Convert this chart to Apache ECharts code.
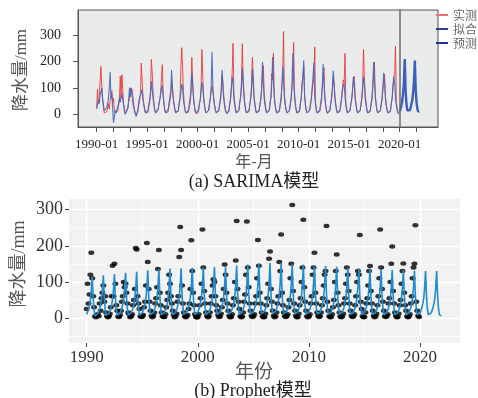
<!DOCTYPE html>
<html>
<head>
<meta charset="utf-8">
<script src="https://cdn.jsdelivr.net/npm/echarts@6/dist/echarts.min.js"></script>
<style>
  html, body { margin: 0; padding: 0; background: #fff; }
  #main { width: 478px; height: 398px; }
</style>
</head>
<body>
<div id="main"></div>
<script>
// monthly precipitation (mm), one row per year, Jan..Dec, 1990-2019
var startYear = 1990
var actual = [
  [25, 95, 40, 65, 120, 181, 110, 60, 30, 5, 2, 8],
  [10, 5, 40, 20, 55, 70, 90, 45, 60, 15, 5, 2],
  [5, 12, 30, 60, 145, 60, 150, 95, 35, 20, 4, 3],
  [8, 20, 45, 60, 100, 85, 95, 70, 40, 15, 10, 2],
  [5, 10, 35, 50, 80, 194, 190, 60, 40, 25, 5, 3],
  [4, 8, 30, 45, 90, 208, 155, 80, 45, 20, 6, 2],
  [6, 15, 40, 55, 85, 136, 188, 70, 35, 15, 5, 3],
  [3, 10, 30, 50, 70, 120, 95, 60, 40, 20, 8, 2],
  [5, 12, 45, 60, 169, 252, 188, 90, 40, 15, 5, 2],
  [4, 8, 25, 40, 80, 215, 130, 70, 35, 10, 3, 1],
  [3, 10, 35, 55, 95, 245, 140, 75, 40, 15, 5, 2],
  [5, 15, 40, 60, 90, 107, 100, 60, 35, 20, 8, 3],
  [4, 12, 30, 50, 80, 148, 120, 70, 40, 20, 6, 2],
  [3, 10, 35, 55, 100, 159, 269, 80, 45, 25, 5, 2],
  [4, 15, 45, 65, 120, 267, 140, 85, 40, 20, 6, 3],
  [5, 10, 40, 60, 110, 216, 145, 70, 40, 15, 5, 2],
  [3, 12, 35, 55, 95, 164, 184, 80, 45, 20, 6, 2],
  [4, 15, 40, 60, 155, 130, 231, 70, 35, 15, 5, 3],
  [5, 10, 30, 50, 110, 150, 313, 75, 40, 20, 6, 2],
  [3, 12, 35, 55, 100, 140, 272, 85, 45, 20, 5, 2],
  [4, 10, 40, 60, 120, 140, 181, 70, 40, 15, 6, 3],
  [5, 15, 35, 55, 90, 120, 130, 255, 45, 20, 5, 2],
  [3, 10, 30, 50, 100, 130, 176, 70, 35, 15, 4, 2],
  [4, 12, 40, 55, 95, 140, 120, 75, 40, 20, 6, 3],
  [5, 10, 35, 60, 100, 130, 120, 230, 45, 25, 5, 2],
  [3, 15, 40, 55, 90, 130, 144, 75, 40, 20, 6, 2],
  [4, 12, 35, 60, 110, 245, 140, 80, 45, 20, 5, 3],
  [5, 10, 40, 55, 100, 150, 198, 75, 40, 15, 6, 2],
  [3, 12, 35, 50, 95, 130, 151, 70, 35, 20, 5, 2],
  [4, 10, 40, 60, 110, 140, 150, 257, 45, 20, 6, 3]
]
// SARIMA fitted values, same months
var fitted = [
  [20, 35, 55, 40, 70, 85, 100, 60, 35, 15, 20, 10],
  [25, 40, 60, 100, 160, 60, 75, 20, -32, -10, 15, 5],
  [0, 10, 40, 60, 45, 70, 80, 55, 35, 10, 0, -5],
  [5, 25, 55, 100, 65, 100, 70, 40, 25, 10, 0, -8],
  [5, 20, 45, 65, 60, 80, 95, 60, 35, 15, 5, 0],
  [5, 15, 40, 55, 80, 125, 90, 60, 35, 15, 5, 2],
  [8, 20, 40, 55, 75, 95, 110, 70, 40, 15, 5, 3],
  [5, 20, 45, 65, 90, 168, 100, 60, 35, 15, 5, 2],
  [5, 15, 40, 60, 80, 115, 100, 55, 35, 15, 5, 2],
  [5, 15, 40, 60, 90, 155, 110, 60, 35, 15, 5, 2],
  [5, 18, 40, 55, 90, 120, 105, 60, 35, 15, 5, 2],
  [5, 15, 40, 60, 100, 237, 110, 60, 35, 15, 5, 2],
  [5, 15, 40, 60, 95, 168, 105, 55, 30, 12, 5, 2],
  [5, 15, 40, 60, 100, 143, 120, 60, 35, 15, 5, 2],
  [5, 15, 45, 65, 100, 175, 120, 65, 35, 15, 5, 2],
  [5, 15, 40, 60, 95, 172, 115, 60, 35, 15, 5, 2],
  [5, 15, 40, 60, 100, 198, 120, 60, 35, 15, 5, 2],
  [5, 15, 45, 65, 110, 217, 125, 65, 35, 15, 5, 2],
  [5, 15, 40, 60, 105, 181, 130, 65, 35, 15, 5, 2],
  [5, 15, 40, 60, 110, 232, 130, 65, 35, 15, 5, 2],
  [5, 15, 40, 60, 105, 145, 204, 70, 35, 15, 5, 2],
  [5, 15, 40, 60, 100, 140, 195, 70, 35, 15, 5, 2],
  [5, 15, 40, 60, 100, 191, 120, 65, 35, 15, 5, 2],
  [5, 15, 40, 60, 95, 166, 120, 60, 35, 15, 5, 2],
  [5, 15, 40, 60, 90, 110, 118, 65, 35, 15, 5, 2],
  [5, 15, 40, 60, 95, 142, 115, 60, 35, 15, 5, 2],
  [5, 15, 40, 60, 100, 143, 115, 60, 35, 15, 5, 2],
  [5, 15, 40, 60, 105, 198, 125, 65, 35, 15, 5, 2],
  [5, 15, 40, 60, 100, 157, 120, 60, 35, 15, 5, 2],
  [5, 15, 40, 60, 100, 143, 120, 60, 35, 15, 5, 2]
]
// SARIMA forecast 2020-01 .. 2021-12
var forecast = [10, 20, 35, 50, 80, 120, 209, 90, 40, 15, 10, 20,
  15, 25, 40, 55, 85, 125, 203, 95, 45, 20, 10, 12]
// Prophet yhat 1990-01 .. 2021-12
var prophetYhat = [
  [10, 8, 24, 35, 50, 75, 115, 55, 22, 6, 10, 5],
  [12, 9, 25, 36, 51, 77, 118, 56, 23, 7, 11, 5],
  [13, 9, 26, 37, 52, 79, 122, 58, 24, 7, 11, 6],
  [13, 10, 27, 38, 53, 81, 125, 59, 24, 8, 12, 6],
  [14, 10, 27, 39, 54, 82, 128, 60, 25, 8, 12, 6],
  [14, 11, 28, 40, 55, 84, 132, 62, 26, 9, 12, 7],
  [15, 11, 29, 41, 56, 86, 135, 63, 26, 9, 13, 7],
  [15, 11, 29, 41, 57, 87, 137, 64, 27, 9, 13, 7],
  [15, 12, 30, 42, 57, 88, 138, 64, 27, 10, 13, 7],
  [16, 12, 30, 42, 58, 88, 139, 65, 27, 10, 13, 8],
  [16, 12, 30, 43, 58, 89, 140, 65, 28, 10, 14, 8],
  [16, 12, 31, 43, 59, 90, 141, 66, 28, 10, 14, 8],
  [16, 13, 31, 43, 59, 90, 142, 66, 28, 11, 14, 8],
  [17, 13, 32, 44, 60, 92, 145, 67, 29, 11, 14, 8],
  [17, 13, 32, 45, 61, 94, 148, 69, 29, 11, 15, 9],
  [17, 14, 33, 45, 62, 95, 150, 70, 30, 12, 15, 9],
  [18, 14, 33, 46, 63, 96, 152, 71, 30, 12, 15, 9],
  [18, 14, 33, 46, 63, 96, 152, 71, 30, 12, 15, 9],
  [17, 14, 33, 45, 62, 95, 150, 70, 30, 12, 15, 9],
  [17, 13, 32, 45, 61, 94, 148, 69, 29, 11, 15, 9],
  [17, 13, 32, 44, 60, 93, 146, 68, 29, 11, 14, 8],
  [16, 13, 31, 44, 60, 91, 144, 67, 28, 11, 14, 8],
  [16, 13, 31, 43, 59, 90, 142, 66, 28, 11, 14, 8],
  [16, 12, 30, 43, 58, 89, 140, 65, 28, 10, 14, 8],
  [15, 12, 30, 42, 57, 88, 138, 64, 27, 10, 13, 7],
  [15, 12, 29, 41, 57, 87, 136, 63, 27, 10, 13, 7],
  [15, 11, 29, 41, 56, 85, 134, 62, 26, 9, 13, 7],
  [14, 11, 28, 40, 55, 85, 133, 62, 26, 9, 12, 7],
  [14, 11, 28, 40, 55, 84, 132, 62, 26, 9, 12, 7],
  [14, 11, 28, 40, 55, 84, 131, 61, 26, 9, 12, 7],
  [14, 10, 28, 39, 54, 83, 130, 61, 25, 9, 12, 6],
  [14, 10, 28, 39, 54, 83, 130, 61, 25, 9, 12, 6]
]
var sarimaTicks = [0, 20, 40, 60, 80, 100, 120, 140, 160, 180, 200, 220, 240, 260, 280, 300, 320, 340, 360, 380]
var sarimaLabelPos = [0, 60, 120, 180, 240, 300, 360]
var sarimaLabels = ['1990-01', '1995-01', '2000-01', '2005-01', '2010-01', '2015-01', '2020-01']
var prophetYears = [1990, 2000, 2010, 2020]
var prophetMinorYears = [1995, 2005, 2015]
var yTicks = [0, 100, 200, 300]
var yMinor = [-50, 50, 150, 250]

var actualA = [], fittedA = [], forecastA = [], actualB = [], yhatB = []
actual.forEach(function (row, i) {
  row.forEach(function (v, m) {
    actualA.push([i * 12 + m, v])
    actualB.push([startYear + i + m / 12, v])
  })
})
fitted.forEach(function (row, i) {
  row.forEach(function (v, m) {
    fittedA.push([i * 12 + m, v])
  })
})
forecast.forEach(function (v, k) {
  forecastA.push([actual.length * 12 + k, v])
})
prophetYhat.forEach(function (row, i) {
  row.forEach(function (v, m) {
    yhatB.push([startYear + i + m / 12, v])
  })
})

var serif = "'Liberation Serif', 'Noto Sans CJK SC', serif"
var cjk = "'Noto Sans CJK SC', sans-serif"

var gridLines = []
prophetYears.forEach(function (x) { gridLines.push({ xAxis: x, lineStyle: { width: 1.3 } }) })
prophetMinorYears.forEach(function (x) { gridLines.push({ xAxis: x, lineStyle: { width: 0.6 } }) })
yTicks.forEach(function (y) { gridLines.push({ yAxis: y, lineStyle: { width: 1.3 } }) })
yMinor.forEach(function (y) { gridLines.push({ yAxis: y, lineStyle: { width: 0.6 } }) })

var myChart = echarts.init(document.getElementById('main'))
var option = {
  animation: false,
  grid: [
    {
      left: 78, top: 10, width: 360, height: 117,
      show: true, backgroundColor: '#eaebeb', borderColor: '#555', borderWidth: 1
    },
    {
      left: 69, top: 199, width: 391, height: 144,
      show: true, backgroundColor: '#f2f2f2', borderWidth: 0
    }
  ],
  legend: {
    orient: 'vertical',
    left: 436,
    top: 8,
    padding: 0,
    itemGap: 0,
    itemWidth: 12,
    itemHeight: 2,
    icon: 'rect',
    textStyle: { fontFamily: cjk, fontSize: 12, color: '#666', lineHeight: 14 },
    data: [
      { name: '实测', itemStyle: { color: '#f07070' } },
      { name: '拟合', itemStyle: { color: '#2e3f9a' } },
      { name: '预测', itemStyle: { color: '#22329a' } }
    ]
  },
  xAxis: [
    {
      type: 'value', gridIndex: 0, min: -22.2, max: 405.5,
      splitLine: { show: false },
      axisLine: { show: true, onZero: false, lineStyle: { color: '#555' } },
      axisTick: { show: true, length: 5, customValues: sarimaTicks, lineStyle: { color: '#555' } },
      axisLabel: {
        customValues: sarimaLabelPos,
        margin: 11,
        fontFamily: serif, fontSize: 13, color: '#222',
        formatter: function (v) { return sarimaLabels[sarimaLabelPos.indexOf(v)] }
      }
    },
    {
      type: 'value', gridIndex: 1, min: 1988.41, max: 2023.6,
      splitLine: { show: false },
      axisLine: { show: false, onZero: false },
      axisTick: { show: true, length: 4, customValues: prophetYears, lineStyle: { color: '#444' } },
      axisLabel: {
        customValues: prophetYears, margin: 6,
        fontFamily: serif, fontSize: 17, color: '#333',
        formatter: function (v) { return String(v) }
      }
    }
  ],
  yAxis: [
    {
      type: 'value', gridIndex: 0, min: -48, max: 394.6,
      splitLine: { show: false },
      axisLine: { show: true, onZero: false, lineStyle: { color: '#555' } },
      axisTick: { show: true, length: 5, customValues: yTicks, lineStyle: { color: '#555' } },
      axisLabel: { customValues: yTicks, margin: 17, fontFamily: serif, fontSize: 14, color: '#222' }
    },
    {
      type: 'value', gridIndex: 1, min: -69.3, max: 329.6,
      splitLine: { show: false },
      axisLine: { show: false, onZero: false },
      axisTick: { show: true, length: 4, customValues: yTicks, lineStyle: { color: '#444' } },
      axisLabel: { customValues: yTicks, margin: 6, fontFamily: serif, fontSize: 18, color: '#333' }
    }
  ],
  series: [
    {
      name: '实测', type: 'line', xAxisIndex: 0, yAxisIndex: 0,
      data: actualA, showSymbol: false,
      lineStyle: { color: '#ee3030', width: 1, opacity: 0.85 },
      itemStyle: { color: '#f07070' },
      markLine: {
        silent: true, symbol: ['none', 'none'], label: { show: false },
        lineStyle: { color: '#6b6b6b', width: 1.5, type: 'solid' },
        data: [{ xAxis: 360 }]
      }
    },
    {
      name: '拟合', type: 'line', xAxisIndex: 0, yAxisIndex: 0,
      data: fittedA, showSymbol: false,
      lineStyle: { color: '#3f66c0', width: 1.1, opacity: 0.9 },
      itemStyle: { color: '#2e3f9a' }
    },
    {
      name: '预测', type: 'line', xAxisIndex: 0, yAxisIndex: 0,
      data: forecastA, showSymbol: false,
      lineStyle: { color: '#3a5fbd', width: 2.4 },
      itemStyle: { color: '#22329a' }
    },
    {
      name: 'grid', type: 'line', xAxisIndex: 1, yAxisIndex: 1, z: 1,
      data: [],
      markLine: {
        silent: true, z: 1, symbol: ['none', 'none'], label: { show: false },
        lineStyle: { color: '#ffffff', type: 'solid' },
        data: gridLines
      }
    },
    {
      name: 'obs', type: 'scatter', xAxisIndex: 1, yAxisIndex: 1, z: 3,
      data: actualB, symbol: 'circle', symbolSize: [6, 4.5],
      itemStyle: { color: '#000' }
    },
    {
      name: 'yhat', type: 'line', xAxisIndex: 1, yAxisIndex: 1, z: 4,
      data: yhatB, showSymbol: false,
      lineStyle: { color: '#1f8bd0', width: 1.6 }
    }
  ],
  graphic: [
    { type: 'text', x: 22, y: 70, rotation: Math.PI / 2,
      style: { text: '降水量/mm', font: '17px ' + serif, fill: '#555', textAlign: 'center', textVerticalAlign: 'middle' } },
    { type: 'text', x: 254, y: 161,
      style: { text: '年-月', font: '16px ' + cjk, fill: '#555', textAlign: 'center', textVerticalAlign: 'middle' } },
    { type: 'text', x: 254, y: 182,
      style: { text: '(a) SARIMA模型', font: '18px ' + serif, fill: '#222', textAlign: 'center', textVerticalAlign: 'middle' } },
    { type: 'text', x: 19, y: 264, rotation: Math.PI / 2,
      style: { text: '降水量/mm', font: '18px ' + serif, fill: '#555', textAlign: 'center', textVerticalAlign: 'middle' } },
    { type: 'text', x: 254, y: 371,
      style: { text: '年份', font: '19px ' + cjk, fill: '#555', textAlign: 'center', textVerticalAlign: 'middle' } },
    { type: 'text', x: 253, y: 391,
      style: { text: '(b) Prophet模型', font: '18px ' + serif, fill: '#222', textAlign: 'center', textVerticalAlign: 'middle' } }
  ]
}
option && myChart.setOption(option)
</script>
</body>
</html>
